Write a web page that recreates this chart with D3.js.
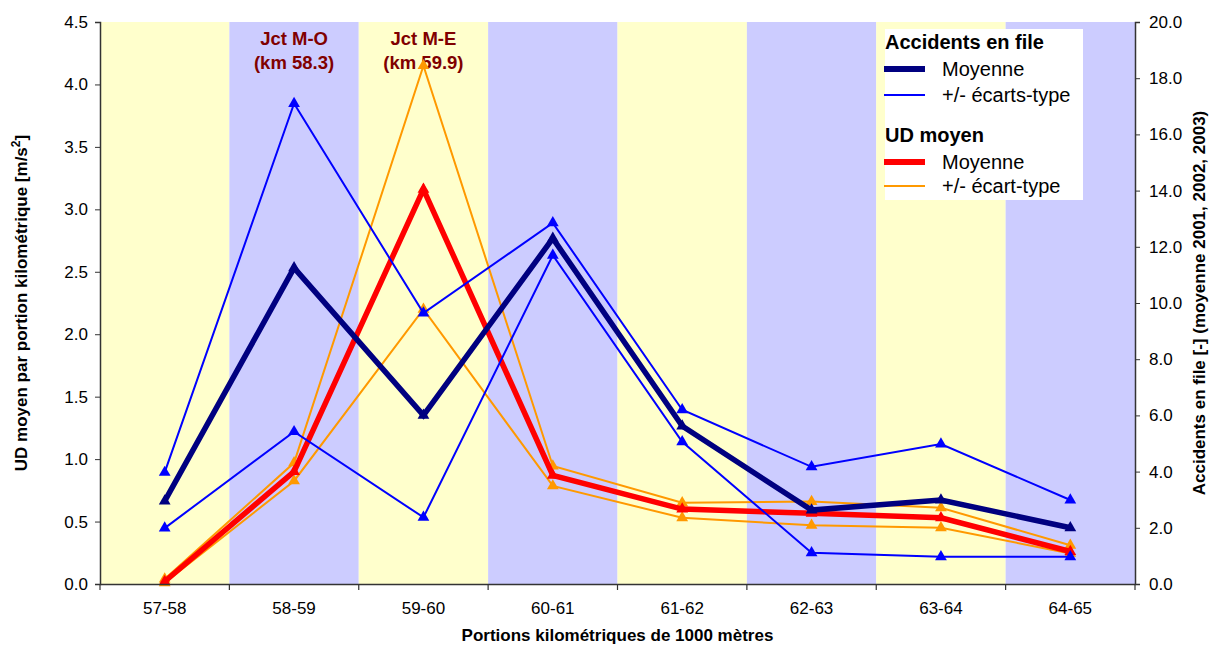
<!DOCTYPE html>
<html><head><meta charset="utf-8">
<script src="https://cdn.jsdelivr.net/npm/d3@7/dist/d3.min.js"></script>
<style>body{margin:0;background:#fff;} svg{display:block;font-family:"Liberation Sans",Arial,sans-serif;}</style>
</head><body>
<svg id="c" width="1216" height="646"></svg>
<script>
const categories = ["57-58","58-59","59-60","60-61","61-62","62-63","63-64","64-65"];
const accMean  = [2.95, 11.25, 6.0, 12.3, 5.62, 2.63, 2.99, 2.0];
const accUpper = [3.97, 17.1, 9.64, 12.85, 6.2, 4.17, 4.98, 2.99];
const accLower = [1.99, 5.42, 2.37, 11.7, 5.06, 1.11, 0.97, 0.97];
const udMean  = [0.02, 0.9, 3.16, 0.87, 0.6, 0.566, 0.53, 0.26];
const udUpper = [0.04, 0.97, 4.15, 0.945, 0.65, 0.66, 0.61, 0.31];
const udLower = [0.01, 0.825, 2.2, 0.785, 0.53, 0.47, 0.45, 0.245];
const leftTicks = [0,0.5,1,1.5,2,2.5,3,3.5,4,4.5];
const rightTicks = [0,2,4,6,8,10,12,14,16,18,20];
const annotations = [{cat:"58-59", lines:["Jct M-O","(km 58.3)"]},{cat:"59-60", lines:["Jct M-E","(km 59.9)"]}];

const svg = d3.select("#c");
const L=100, R=1135, T=22, B=584;
const x = d3.scaleBand().domain(categories).range([L,R]).padding(0);
const yL = d3.scaleLinear().domain([0,4.5]).range([B,T]);
const yR = d3.scaleLinear().domain([0,20]).range([B,T]);

// background bands
svg.append("g").selectAll("rect").data(categories).join("rect")
  .attr("x", d=>x(d)).attr("y", T).attr("width", x.bandwidth()).attr("height", B-T)
  .attr("fill", (d,i)=> i%2===0 ? "#FFFFCC" : "#CCCCFF");

// annotations
annotations.forEach(a=>{
  const t = svg.append("text").attr("text-anchor","middle").attr("font-weight","bold")
    .attr("font-size",18.5).attr("fill","#800000");
  a.lines.forEach((ln,i)=> t.append("tspan").attr("x", x(a.cat)+x.bandwidth()/2).attr("y", 45+i*24).text(ln));
});

function drawSeries(vals, yScale, color, width, msize){
  const cx = d=> x(d)+x.bandwidth()/2;
  const line = d3.line().x((d,i)=>cx(categories[i])).y(d=>yScale(d));
  svg.append("path").datum(vals).attr("d", line).attr("fill","none")
    .attr("stroke", color).attr("stroke-width", width).attr("stroke-linejoin","miter");
  svg.append("g").selectAll("path").data(vals).join("path")
    .attr("d", d3.symbol(d3.symbolTriangle).size(msize))
    .attr("transform",(d,i)=>`translate(${cx(categories[i])},${yScale(d)})`)
    .attr("fill", color);
}
drawSeries(udUpper, yL, "#FF9900", 2, 60);
drawSeries(udLower, yL, "#FF9900", 2, 60);
drawSeries(udMean, yL, "#FF0000", 5.5, 60);
drawSeries(accUpper, yR, "#0000FF", 2, 60);
drawSeries(accLower, yR, "#0000FF", 2, 60);
drawSeries(accMean, yR, "#000080", 5.5, 60);

// axes
const axColor = "#333";
const gx = svg.append("g").attr("transform",`translate(0,${B})`)
  .call(d3.axisBottom(x).tickSize(0).tickPadding(18));
gx.select(".domain").attr("stroke",axColor).attr("stroke-width",1.5);
gx.selectAll("text").attr("font-size",17).attr("fill","#000").attr("font-family","Liberation Sans, Arial, sans-serif");
// boundary ticks
const bounds = categories.map(c=>x(c)).concat([R]);
svg.append("g").selectAll("line").data(bounds).join("line")
  .attr("x1",d=>d).attr("x2",d=>d).attr("y1",B).attr("y2",B+6).attr("stroke",axColor).attr("stroke-width",1.2);

const gl = svg.append("g").attr("transform",`translate(${L},0)`)
  .call(d3.axisLeft(yL).tickValues(leftTicks).tickFormat(d3.format(".1f")).tickSize(5).tickPadding(7));
gl.select(".domain").attr("stroke",axColor).attr("stroke-width",1.5);
gl.selectAll(".tick line").attr("stroke",axColor);
gl.selectAll("text").attr("font-size",17).attr("fill","#000").attr("font-family","Liberation Sans, Arial, sans-serif");

const gr = svg.append("g").attr("transform",`translate(${R},0)`)
  .call(d3.axisRight(yR).tickValues(rightTicks).tickFormat(d3.format(".1f")).tickSize(5).tickPadding(9));
gr.select(".domain").attr("stroke",axColor).attr("stroke-width",1.5);
gr.selectAll(".tick line").attr("stroke",axColor);
gr.selectAll("text").attr("font-size",17).attr("fill","#000").attr("font-family","Liberation Sans, Arial, sans-serif");

// axis titles
svg.append("text").attr("transform",`translate(27,${(T+B)/2}) rotate(-90)`)
  .attr("text-anchor","middle").attr("font-weight","bold").attr("font-size",17)
  .html('UD moyen par portion kilométrique [m/s<tspan dy="-7" font-size="12">2</tspan><tspan dy="7">]</tspan>');
svg.append("text").attr("transform",`translate(1205,${(T+B)/2}) rotate(-90)`)
  .attr("text-anchor","middle").attr("font-weight","bold").attr("font-size",17)
  .text("Accidents en file [-] (moyenne 2001, 2002, 2003)");
svg.append("text").attr("x",(L+R)/2).attr("y",641).attr("text-anchor","middle")
  .attr("font-weight","bold").attr("font-size",17).text("Portions kilométriques de 1000 mètres");

// legend
const lg = svg.append("g");
lg.append("rect").attr("x",885).attr("y",29).attr("width",198).attr("height",171).attr("fill","#fff");
const legendItems = [
  {type:"title", text:"Accidents en file", y:49},
  {type:"line", text:"Moyenne", y:69, color:"#000080", w:6},
  {type:"line", text:"+/- écarts-type", y:95, color:"#0000FF", w:2},
  {type:"title", text:"UD moyen", y:142},
  {type:"line", text:"Moyenne", y:162, color:"#FF0000", w:6},
  {type:"line", text:"+/- écart-type", y:186, color:"#FF9900", w:2}
];
legendItems.forEach(it=>{
  if(it.type==="title"){
    lg.append("text").attr("x",885).attr("y",it.y).attr("font-weight","bold").attr("font-size",20).text(it.text);
  } else {
    lg.append("line").attr("x1",884).attr("x2",925).attr("y1",it.y).attr("y2",it.y)
      .attr("stroke",it.color).attr("stroke-width",it.w);
    lg.append("text").attr("x",942).attr("y",it.y+7).attr("font-size",20).text(it.text);
  }
});
</script>
</body></html>
